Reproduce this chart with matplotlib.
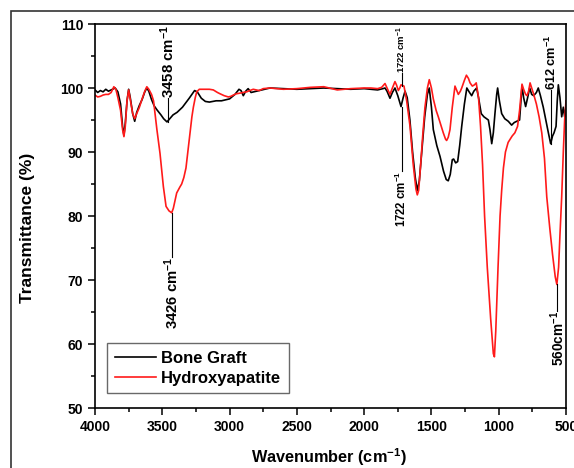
import matplotlib
matplotlib.use("Agg")
import matplotlib.pyplot as plt
from matplotlib.patches import Rectangle
from matplotlib.ticker import MultipleLocator

plt.rcParams['font.family'] = ['Liberation Sans', 'DejaVu Sans']
plt.rcParams['mathtext.fontset'] = 'custom'
plt.rcParams['mathtext.rm'] = 'Liberation Sans:bold'
plt.rcParams['mathtext.bf'] = 'Liberation Sans:bold'
plt.rcParams['mathtext.it'] = 'Liberation Sans:bold'

# Bone Graft spectrum (wavenumber, transmittance %)
bone_wn = [4000, 3980, 3960, 3940, 3920, 3900, 3870, 3850, 3830, 3810, 3795, 3785, 3775, 3762,
           3750, 3738, 3720, 3705, 3690, 3670, 3650, 3630, 3615, 3600, 3580, 3560, 3540, 3510,
           3490, 3465, 3440, 3420, 3390, 3350, 3300, 3260, 3240, 3210, 3180, 3150, 3100, 3060,
           3000, 2960, 2930, 2915, 2898, 2880, 2862, 2840, 2820, 2780, 2740, 2700, 2600, 2500,
           2400, 2300, 2200, 2100, 2000, 1950, 1900, 1860, 1845, 1830, 1808, 1790, 1771, 1750,
           1726, 1710, 1696, 1680, 1660, 1640, 1620, 1605, 1590, 1570, 1550, 1530, 1516, 1500,
           1486, 1460, 1436, 1410, 1390, 1375, 1360, 1345, 1335, 1320, 1305, 1290, 1275, 1255,
           1237, 1220, 1201, 1185, 1164, 1150, 1130, 1110, 1090, 1077, 1065, 1052, 1040, 1028,
           1015, 1008, 995, 978, 955, 929, 904, 885, 866, 845, 835, 827, 815, 800, 785, 770,
           755, 740, 720, 706, 690, 669, 650, 631, 614, 600, 589, 574, 565, 557, 545, 532, 520,
           510, 500]
bone_t = [99.7, 99.3, 99.6, 99.4, 99.8, 99.5, 99.8, 100.0, 99.4, 97.5, 94.0, 92.6, 94.5, 98.0,
          99.8, 98.5, 96.0, 94.8, 96.2, 97.3, 98.2, 99.4, 100.0, 99.5, 98.2, 97.2, 96.6, 95.8,
          95.2, 94.7, 95.3, 95.8, 96.2, 97.0, 98.4, 99.6, 99.4, 98.4, 97.9, 97.8, 98.0, 98.0,
          98.3, 99.0, 99.8, 99.6, 98.8, 99.5, 99.9, 99.3, 99.4, 99.6, 99.8, 100.0, 99.9, 99.8,
          99.9, 100.0, 99.9, 99.8, 99.9, 99.8, 99.7, 99.9, 100.0, 99.5, 98.4, 99.3, 100.0, 98.8,
          97.1, 98.5, 99.5, 98.5, 95.0, 90.0, 86.0, 84.0, 85.5, 90.5, 95.5, 99.0, 100.0, 97.0,
          93.5, 91.0, 89.3, 87.0, 85.7, 85.5, 86.5, 88.8, 88.9, 88.3, 88.5, 91.0, 94.0, 97.5,
          100.0, 99.4, 98.8, 99.5, 100.0, 98.5, 96.0, 95.5, 95.2, 95.0, 93.5, 91.3, 93.0, 96.0,
          99.0, 100.0, 98.0, 96.0, 95.2, 94.8, 94.2, 94.6, 94.8, 95.0, 98.0, 100.3, 98.5, 97.1,
          98.5, 100.0, 99.0, 98.8, 99.3, 100.0, 98.8, 97.0, 95.0, 93.0, 91.3, 92.5, 93.0, 94.0,
          98.0, 100.5, 98.5, 95.5, 97.0, 95.5, 97.0]

# Hydroxyapatite spectrum
hap_wn = [4000, 3980, 3960, 3940, 3920, 3900, 3880, 3860, 3845, 3830, 3810, 3795, 3785, 3775,
          3762, 3750, 3738, 3720, 3705, 3690, 3670, 3650, 3630, 3615, 3600, 3580, 3565, 3554,
          3540, 3517, 3492, 3472, 3450, 3430, 3418, 3393, 3370, 3356, 3340, 3324, 3310, 3294,
          3280, 3269, 3255, 3244, 3225, 3200, 3150, 3121, 3090, 3071, 3040, 3009, 2990, 2972,
          2950, 2922, 2900, 2873, 2850, 2824, 2780, 2750, 2700, 2600, 2500, 2400, 2300, 2200,
          2100, 2000, 1950, 1900, 1870, 1845, 1825, 1808, 1790, 1771, 1760, 1746, 1735, 1726,
          1704, 1684, 1659, 1635, 1615, 1605, 1595, 1580, 1565, 1548, 1530, 1516, 1500, 1486,
          1465, 1449, 1430, 1412, 1395, 1387, 1375, 1362, 1345, 1325, 1310, 1300, 1285, 1275,
          1255, 1240, 1225, 1213, 1196, 1180, 1167, 1150, 1135, 1120, 1105, 1085, 1060, 1040,
          1032, 1022, 1005, 990, 978, 965, 950, 930, 900, 880, 860, 845, 827, 815, 800, 790,
          778, 767, 755, 740, 720, 700, 680, 660, 643, 620, 600, 580, 568, 555, 545, 532, 520,
          510, 500]
hap_t = [98.9, 98.6, 98.7, 98.9, 99.0, 99.0, 99.3, 100.2, 99.8, 98.5, 96.5, 93.5, 92.4, 94.0,
         98.0, 99.7, 98.2, 96.0, 95.2, 96.0, 97.0, 98.3, 99.5, 100.2, 99.8, 99.0, 98.0, 96.0,
         93.5, 89.8, 84.6, 81.5, 80.8, 80.5, 81.2, 83.6, 84.5, 85.0, 86.0, 87.5, 90.0, 93.0,
         95.5, 97.0, 98.5, 99.4, 99.8, 99.8, 99.8, 99.7, 99.3, 99.1, 98.8, 98.6, 98.7, 98.9,
         99.1, 99.2, 99.3, 99.4, 99.6, 99.8, 99.6, 99.9, 100.0, 99.8, 99.9, 100.1, 100.2, 99.7,
         99.9, 100.0, 100.0, 99.9, 100.1, 100.7, 99.8, 99.0, 100.0, 101.0, 100.5, 99.6, 100.0,
         100.5, 100.3, 98.0, 94.0, 88.0, 84.2, 83.3, 84.0, 88.0, 92.5, 97.0, 100.0, 101.3, 100.0,
         98.3, 96.5, 95.5, 94.2, 93.0, 92.0, 91.8, 92.3, 93.5, 97.0, 100.3, 99.5, 99.0, 99.5,
         100.0, 101.2, 102.0, 101.5, 100.8, 100.3, 100.5, 100.8, 98.5, 94.0, 88.0, 80.0, 72.0,
         64.0, 58.5, 58.0, 62.0, 72.0, 80.0, 84.0, 87.5, 90.0, 91.5, 92.5, 93.0, 94.0, 96.5,
         100.6, 99.8, 99.0, 98.8, 99.5, 100.8, 100.0, 99.0, 97.5, 95.5, 93.0, 89.0, 83.0, 78.0,
         74.0, 70.5, 69.3, 72.0, 77.0, 83.0, 90.0, 95.0, 98.0]

# peak labels: line from y0 to y1, text starts at y1
peak_x = [3458, 3430, 1722, 1722, 610, 565]
peak_y0 = [94.7, 80.5, 100.3, 97.1, 91.3, 69.3]
peak_y1 = [98.4, 73.6, 102.3, 87.0, 99.7, 65.2]
peak_txt = [r'3458 cm$^{-1}$', r'3426 cm$^{-1}$', r'1722 cm$^{-1}$', r'1722 cm$^{-1}$',
            r'612 cm$^{-1}$', r'560cm$^{-1}$']
peak_size = [10.8, 10.7, 6.8, 8.3, 9.2, 9.8]

fig = plt.figure(figsize=(5.74, 4.68), dpi=100)
ax = fig.add_axes([95/574, 1-408/468, 471/574, 384/468])

ax.plot(bone_wn, bone_t, color='black', lw=1.2, label='Bone Graft')
ax.plot(hap_wn, hap_t, color='#ff1a1a', lw=1.2, label='Hydroxyapatite')

for x, y0, y1, s, fs in zip(peak_x, peak_y0, peak_y1, peak_txt, peak_size):
    ax.plot([x, x], [y0, y1], color='black', lw=0.8)
    va = 'bottom' if y1 > y0 else 'top'
    ax.text(x, y1, s, rotation=90, ha='center', va=va, fontsize=fs, fontweight='bold')

ax.set_xlim(4000, 500)
ax.set_ylim(50, 110)
ax.xaxis.set_major_locator(MultipleLocator(500))
ax.xaxis.set_minor_locator(MultipleLocator(250))
ax.yaxis.set_major_locator(MultipleLocator(10))
ax.yaxis.set_minor_locator(MultipleLocator(5))
ax.tick_params(which='both', direction='out', top=False, right=False, width=1.1)
ax.tick_params(which='major', length=5, labelsize=10)
ax.tick_params(which='minor', length=3)
for lab in ax.get_xticklabels() + ax.get_yticklabels():
    lab.set_fontweight('bold')
for sp in ax.spines.values():
    sp.set_linewidth(1.2)

leg = ax.legend(loc='lower left', bbox_to_anchor=(0.0255, 0.039), borderaxespad=0,
                fancybox=False, edgecolor='#444444', handlelength=2.5, handletextpad=0.3,
                borderpad=0.45, labelspacing=0.3, prop={'weight': 'bold', 'size': 12})
leg.get_frame().set_linewidth(1.0)

fig.text(28/574, 1-228/468, 'Transmittance (%)', rotation=90, ha='center', va='center',
         fontsize=12.5, fontweight='bold')
fig.text(329/574, 1-457/468, r'Wavenumber (cm$^{-1}$)', ha='center', va='center',
         fontsize=11.7, fontweight='bold')

fig.patches.append(Rectangle((11/574, -0.2), 1.2, 1.2 - 11/468, transform=fig.transFigure,
                             fill=False, edgecolor='#333333', lw=1.2, clip_on=False))

fig.savefig('out.png', dpi=100)
